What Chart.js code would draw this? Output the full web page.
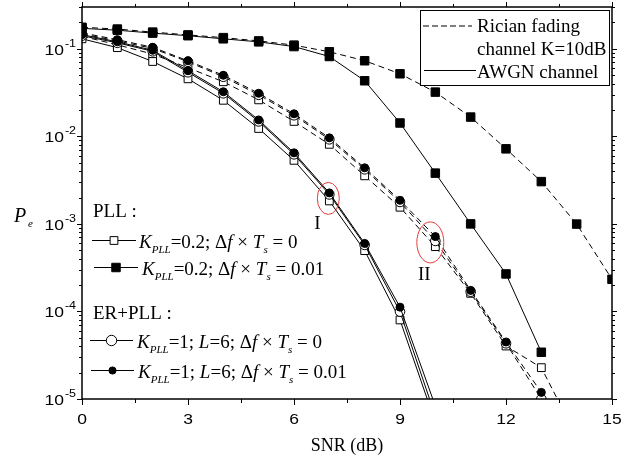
<!DOCTYPE html>
<html>
<head>
<meta charset="utf-8">
<title>Pe vs SNR</title>
<script src="https://cdn.jsdelivr.net/npm/chart.js@4.4.0/dist/chart.umd.min.js"></script>
<style>
  html, body { margin: 0; padding: 0; background: #fff; }
  #wrap { width: 633px; height: 459px; }
</style>
</head>
<body>
<div id="wrap"><canvas id="peChart" width="633" height="459"></canvas></div>
<script>
// values (Pe vs SNR in dB)
const snr = [0, 1, 2, 3, 4, 5, 6, 7, 8, 9, 10, 11, 12, 13, 14, 15];
const xTicks = [0, 3, 6, 9, 12, 15];
const yTickExp = [-5, -4, -3, -2, -1];

// AWGN channel (solid)
const awgnPllF0  = [0.130, 0.103, 0.0716, 0.0454, 0.0258, 0.0123, 0.00532, 0.00183, 4.95e-4, 8.0e-5, 5.4e-6];
const awgnPllF01 = [0.171, 0.163, 0.151, 0.141, 0.130, 0.120, 0.106, 0.0816, 0.0431, 0.0142, 0.0038, 1.0e-3, 2.68e-4, 3.42e-5];
const awgnErF0   = [0.141, 0.117, 0.0936, 0.0539, 0.0310, 0.0148, 0.00623, 0.00217, 5.75e-4, 9.95e-5, 6.4e-6];
const awgnErF01  = [0.145, 0.120, 0.0961, 0.0561, 0.0323, 0.0154, 0.00648, 0.00226, 5.98e-4, 1.12e-4, 8.3e-6];

// Rician fading channel K=10dB (dashed)
const ricPllF0  = [0.139, 0.111, 0.0870, 0.0607, 0.0420, 0.0261, 0.0148, 0.00810, 0.00354, 0.00155, 5.50e-4, 1.61e-4, 4.03e-5, 2.28e-5, 3.7e-6];
const ricPllF01 = [0.176, 0.168, 0.155, 0.144, 0.134, 0.123, 0.110, 0.0924, 0.0730, 0.0518, 0.0320, 0.0166, 0.0072, 0.00304, 9.95e-4, 2.33e-4];
const ricErF0   = [0.148, 0.123, 0.101, 0.0710, 0.0479, 0.0298, 0.0174, 0.00924, 0.00420, 0.00178, 6.39e-4, 1.68e-4, 4.33e-5, 1.0e-5];
const ricErF01  = [0.152, 0.127, 0.104, 0.0729, 0.0498, 0.0310, 0.0181, 0.00961, 0.00437, 0.00186, 7.16e-4, 1.74e-4, 4.48e-5, 1.19e-5];

const SERIF = '"Liberation Serif", "Times New Roman", serif';
const SANS = '"Liberation Sans", Arial, sans-serif';

const markers = {
    openSq:   { pointStyle: 'rect',   pointRadius: 5.5, pointBackgroundColor: '#fff' },
    fillSq:   { pointStyle: 'rect',   pointRadius: 6,   pointBackgroundColor: '#000' },
    openCirc: { pointStyle: 'circle', pointRadius: 4.8, pointBackgroundColor: '#fff' },
    fillCirc: { pointStyle: 'circle', pointRadius: 4,   pointBackgroundColor: '#000' }
};

function series(label, vals, marker, dashed) {
    return Object.assign({
        label: label,
        data: vals.map((v, i) => ({ x: snr[i], y: v })),
        borderColor: '#000',
        borderWidth: 1,
        borderDash: dashed ? [6, 4] : [],
        pointBorderColor: '#000',
        pointBorderWidth: 1,
        pointHoverRadius: 0,
        fill: false,
        tension: 0,
        clip: 0
    }, markers[marker]);
}

// draw a line of text with italic parts and subscripts
function richText(ctx, x, y, parts) {
    parts.forEach(([txt, kind]) => {
        let font = '19px ' + SERIF, dy = 0;
        if (kind === 'i') font = 'italic 19px ' + SERIF;
        if (kind === 'sub') { font = 'italic 11px ' + SERIF; dy = 5; }
        ctx.font = font;
        ctx.fillText(txt, x, y + dy);
        x += ctx.measureText(txt).width;
    });
}

// tick label text, slightly stretched like the original figure
function wideText(ctx, txt, x, y, align) {
    const k = 1.25;
    const w = ctx.measureText(txt).width * k;
    let left = x;
    if (align === 'center') left = x - w / 2;
    if (align === 'right') left = x - w;
    ctx.save();
    ctx.textAlign = 'left';
    ctx.translate(left, y);
    ctx.scale(k, 1);
    ctx.fillText(txt, 0, 0);
    ctx.restore();
    return w;
}

function legendSample(ctx, x1, x2, y, style, radius, fillCol) {
    ctx.setLineDash([]);
    ctx.beginPath(); ctx.moveTo(x1, y); ctx.lineTo(x2, y); ctx.stroke();
    ctx.fillStyle = fillCol;
    Chart.helpers.drawPoint(ctx, { pointStyle: style, radius: radius, rotation: 0, borderWidth: 1 }, (x1 + x2) / 2, y);
    ctx.fillStyle = '#000';
}

const paperAxes = {
    id: 'paperAxes',
    afterDraw(chart) {
        const { ctx, chartArea: a, scales: { x, y } } = chart;
        ctx.save();
        ctx.strokeStyle = '#000';
        ctx.fillStyle = '#000';

        // frame
        ctx.lineWidth = 1.5;
        ctx.strokeRect(a.left, a.top, a.right - a.left, a.bottom - a.top);

        // x ticks (outward, top and bottom)
        ctx.lineWidth = 1;
        ctx.beginPath();
        for (let v = 0; v <= 15; v += 1.5) {
            const px = Math.round(x.getPixelForValue(v)) + 0.5;
            const major = xTicks.includes(v);
            ctx.moveTo(px, a.bottom); ctx.lineTo(px, a.bottom + (major ? 6 : 4));
            ctx.moveTo(px, a.top); ctx.lineTo(px, a.top - (major ? 5 : 3));
        }
        // y ticks (log, outward, left and right)
        yTickExp.forEach(e => {
            for (let m = 1; m <= 9; m++) {
                const v = m * Math.pow(10, e);
                if (v > y.max * 1.0001) break;
                const py = Math.round(y.getPixelForValue(v)) + 0.5;
                const len = m === 1 ? 5 : 3;
                ctx.moveTo(a.left, py); ctx.lineTo(a.left - len, py);
                ctx.moveTo(a.right, py); ctx.lineTo(a.right + len, py);
            }
        });
        ctx.stroke();

        // tick labels
        ctx.textBaseline = 'alphabetic';
        ctx.font = '14px ' + SANS;
        xTicks.forEach(v => wideText(ctx, String(v), x.getPixelForValue(v), a.bottom + 25, 'center'));
        yTickExp.forEach(e => {
            const py = y.getPixelForValue(Math.pow(10, e));
            ctx.font = '10px ' + SANS;
            const supW = wideText(ctx, String(e), a.left - 6, py - 2, 'right');
            ctx.font = '14px ' + SANS;
            wideText(ctx, '10', a.left - 7 - supW, py + 6, 'right');
        });

        // axis titles
        ctx.textAlign = 'center';
        ctx.font = '18px ' + SERIF;
        ctx.fillText('SNR (dB)', (a.left + a.right) / 2, 451);
        ctx.textAlign = 'left';
        ctx.font = 'italic 20px ' + SERIF;
        ctx.fillText('P', 14, 222);
        ctx.font = 'italic 11px ' + SERIF;
        ctx.fillText('e', 28, 227);

        // channel legend (top right)
        ctx.lineWidth = 1;
        ctx.strokeRect(420.5, 10.5, 189, 75);
        ctx.beginPath(); ctx.setLineDash([6, 3]);
        ctx.moveTo(423, 26); ctx.lineTo(472, 26); ctx.stroke();
        ctx.setLineDash([]);
        ctx.beginPath(); ctx.moveTo(424, 70.5); ctx.lineTo(476, 70.5); ctx.stroke();
        ctx.font = '19px ' + SERIF;
        ctx.fillText('Rician fading', 477, 32);
        ctx.fillText('channel K=10dB', 477, 55);
        ctx.fillText('AWGN channel', 477, 78);

        // scheme legend (bottom left)
        ctx.fillText('PLL :', 93, 217);
        ctx.fillText('ER+PLL :', 93, 319);
        legendSample(ctx, 92, 136, 240.5, 'rect', 5.5, '#fff');
        legendSample(ctx, 94, 138, 267.5, 'rect', 6, '#000');
        legendSample(ctx, 90, 133, 340.5, 'circle', 5.2, '#fff');
        legendSample(ctx, 91, 134, 370.5, 'circle', 3.6, '#000');
        richText(ctx, 139, 248, [['K', 'i'], ['PLL', 'sub'], ['=0.2; \u0394', 'n'], ['f', 'i'], [' \u00d7 ', 'n'], ['T', 'i'], ['s', 'sub'], [' = 0', 'n']]);
        richText(ctx, 142, 275, [['K', 'i'], ['PLL', 'sub'], ['=0.2; \u0394', 'n'], ['f', 'i'], [' \u00d7 ', 'n'], ['T', 'i'], ['s', 'sub'], [' = 0.01', 'n']]);
        richText(ctx, 137, 348, [['K', 'i'], ['PLL', 'sub'], ['=1; ', 'n'], ['L', 'i'], ['=6; \u0394', 'n'], ['f', 'i'], [' \u00d7 ', 'n'], ['T', 'i'], ['s', 'sub'], [' = 0', 'n']]);
        richText(ctx, 138, 378, [['K', 'i'], ['PLL', 'sub'], ['=1; ', 'n'], ['L', 'i'], ['=6; \u0394', 'n'], ['f', 'i'], [' \u00d7 ', 'n'], ['T', 'i'], ['s', 'sub'], [' = 0.01', 'n']]);

        // red ellipses marking regions I and II
        ctx.strokeStyle = '#e53935';
        ctx.lineWidth = 1;
        const c1x = x.getPixelForValue(7) - 1, c1y = y.getPixelForValue(awgnErF0[7]) + 4;
        ctx.beginPath(); ctx.ellipse(c1x, c1y, 11, 16, 0, 0, Math.PI * 2); ctx.stroke();
        const c2x = x.getPixelForValue(10) - 5, c2y = y.getPixelForValue(ricErF0[10]) + 1.5;
        ctx.beginPath(); ctx.ellipse(c2x, c2y, 13.5, 20.5, 0, 0, Math.PI * 2); ctx.stroke();
        ctx.fillStyle = '#000';
        ctx.textAlign = 'center';
        ctx.font = '19px ' + SERIF;
        ctx.fillText('I', c1x - 11, 229);
        ctx.fillText('II', c2x - 6, 280);

        ctx.restore();
    }
};

document.addEventListener('DOMContentLoaded', () => {
    const ctxPe = document.getElementById('peChart');
    new Chart(ctxPe.getContext('2d'), {
        type: 'line',
        data: {
            datasets: [
                series('AWGN ER+PLL 0.01', awgnErF01, 'fillCirc', false),
                series('Rician ER+PLL 0.01', ricErF01, 'fillCirc', true),
                series('AWGN ER+PLL 0', awgnErF0, 'openCirc', false),
                series('Rician ER+PLL 0', ricErF0, 'openCirc', true),
                series('AWGN PLL 0', awgnPllF0, 'openSq', false),
                series('Rician PLL 0', ricPllF0, 'openSq', true),
                series('AWGN PLL 0.01', awgnPllF01, 'fillSq', false),
                series('Rician PLL 0.01', ricPllF01, 'fillSq', true)
            ]
        },
        options: {
            responsive: false,
            animation: false,
            events: [],
            layout: { padding: { left: 82, right: 21, top: 7, bottom: 60 } },
            plugins: { legend: { display: false }, tooltip: { enabled: false } },
            scales: {
                x: { type: 'linear', min: 0, max: 15, display: false },
                y: { type: 'logarithmic', min: 1e-5, max: 0.3, display: false }
            }
        },
        plugins: [paperAxes]
    });
});
</script>
</body>
</html>
